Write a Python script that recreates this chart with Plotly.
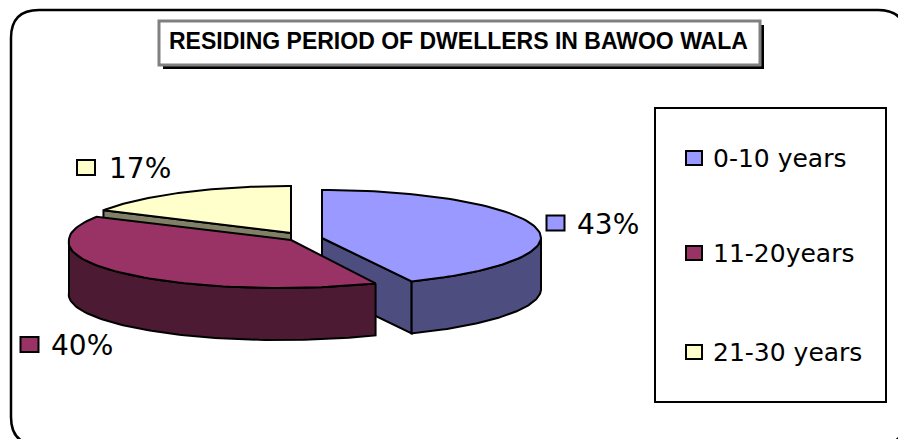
import numpy as np
import plotly.graph_objects as go

# Share of dwellers per residing period, in pie order (clockwise from 12 o'clock)
categories = ["0-10 years", "11-20years", "21-30 years"]
shares = [43, 40, 17]
share_labels = ["43%", "40%", "17%"]
top_colors = ["#9999FF", "#993366", "#FFFFCC"]
side_colors = ["#4D4D80", "#4D1A33", "#808066"]

title_text = "RESIDING PERIOD OF DWELLERS IN BAWOO WALA"

WIDTH, HEIGHT = 898, 439
TEXT_FONT = "DejaVu Sans"

# Exploded pie geometry: ellipse centre, radii, front-edge perspective shear and extrusion depth
centers = [(322, 238), (291, 240), (291, 233)]
radii = [(219, 48), (222, 48), (214, 47)]
shear = [4, 11, 0]
DEPTH = 52
label_xy = [(575, 224), (49, 345), (107, 168)]
label_box = [(555.5, 223), (29.5, 344.5), (86, 167.5)]
legend_y = [158, 253, 352]

edges = np.cumsum([0] + shares) / sum(shares) * 360


def rim(i, start, end, n=80):
    t = np.radians(np.linspace(start, end, n))
    # The shear only pulls in the near half of the ellipse
    x = centers[i][0] + radii[i][0] * np.sin(t) + shear[i] * np.minimum(np.cos(t), 0)
    y = centers[i][1] - radii[i][1] * np.cos(t)
    return x, y


def polygon(x, y, fill, width=2):
    return go.Scatter(
        x=np.append(x, x[0]), y=np.append(y, y[0]), mode="lines", fill="toself",
        fillcolor=fill, line=dict(color="black", width=width),
        hoverinfo="skip", showlegend=False,
    )


def side_wall(i, start, end):
    x, y = rim(i, start, end)
    return np.concatenate([x, x[::-1]]), np.concatenate([y, y[::-1] + DEPTH])


def radial_wall(i, angle):
    x, y = rim(i, angle, angle, 1)
    cx, cy = centers[i]
    return np.array([cx, x[0], x[0], cx]), np.array([cy, y[0], y[0] + DEPTH, cy + DEPTH])


def slice_top(i, start, end):
    x, y = rim(i, start, end)
    return np.concatenate([[centers[i][0]], x]), np.concatenate([[centers[i][1]], y])


fig = go.Figure()

# Painted back to front: yellow, then blue, then the maroon slice over both
yellow, blue, maroon = 2, 0, 1

fig.add_trace(polygon(*radial_wall(yellow, edges[yellow]), side_colors[yellow]))
fig.add_trace(polygon(*slice_top(yellow, edges[yellow], edges[yellow + 1]), top_colors[yellow]))

fig.add_trace(polygon(*radial_wall(blue, edges[blue + 1]), side_colors[blue]))
fig.add_trace(polygon(*side_wall(blue, 90, edges[blue + 1]), side_colors[blue]))
fig.add_trace(polygon(*slice_top(blue, edges[blue], edges[blue + 1]), top_colors[blue]))

fig.add_trace(polygon(*side_wall(maroon, edges[maroon], 270), side_colors[maroon]))
fig.add_trace(polygon(*slice_top(maroon, edges[maroon], edges[maroon + 1]), top_colors[maroon]))

shapes = [
    # Chart frame, its right and bottom sides running past the page edge
    dict(type="path", path="M 39,10 H 878 Q 906,10 906,38 V 417 Q 906,445 878,445 H 39 Q 11,445 11,417 V 38 Q 11,10 39,10 Z",
         line=dict(color="black", width=2.5), layer="below"),
    # Title box with its drop shadow
    dict(type="rect", x0=163, y0=25, x1=764, y1=69, fillcolor="black", line_width=0, layer="below"),
    dict(type="rect", x0=159, y0=21, x1=760, y1=65, fillcolor="white",
         line=dict(color="#808080", width=3), layer="below"),
    # Legend box
    dict(type="rect", x0=655, y0=108, x1=886, y1=402, fillcolor="white",
         line=dict(color="black", width=2), layer="below"),
]

annotations = [
    dict(x=458.5, y=41, text=f"<b>{title_text}</b>", showarrow=False, xanchor="center", yanchor="middle",
         font=dict(family="Liberation Sans", size=23, color="black")),
]

for i, name in enumerate(categories):
    # Legend entry
    shapes.append(dict(type="rect", x0=686, x1=702, y0=legend_y[i] - 7, y1=legend_y[i] + 7,
                       fillcolor=top_colors[i], line=dict(color="black", width=2)))
    annotations.append(dict(x=711, y=legend_y[i], text=name, showarrow=False, xanchor="left", yanchor="middle",
                            font=dict(family=TEXT_FONT, size=25, color="black")))
    # Percentage label with its colour key
    bx, by = label_box[i]
    shapes.append(dict(type="rect", x0=bx - 9, x1=bx + 9, y0=by - 7.5, y1=by + 7.5,
                       fillcolor=top_colors[i], line=dict(color="black", width=2)))
    lx, ly = label_xy[i]
    annotations.append(dict(x=lx, y=ly, text=share_labels[i], showarrow=False, xanchor="left", yanchor="middle",
                            font=dict(family=TEXT_FONT, size=28, color="black")))

fig.update_layout(
    width=WIDTH, height=HEIGHT, margin=dict(l=0, r=0, t=0, b=0),
    paper_bgcolor="white", plot_bgcolor="white", showlegend=False,
    xaxis=dict(range=[0, WIDTH], visible=False, fixedrange=True),
    yaxis=dict(range=[HEIGHT, 0], visible=False, fixedrange=True),
    shapes=shapes, annotations=annotations,
)

fig.write_html("out.html", config=dict(displayModeBar=False))
